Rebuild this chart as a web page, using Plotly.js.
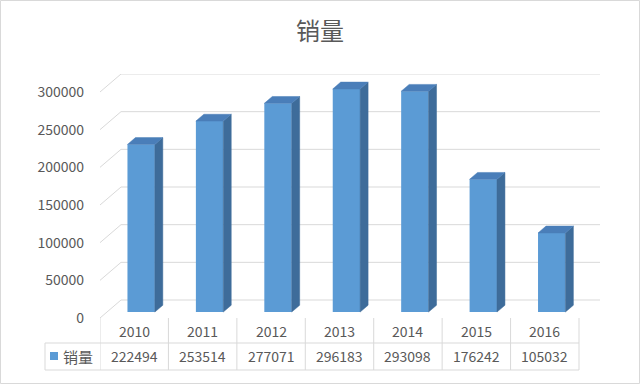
<!DOCTYPE html>
<html>
<head>
<meta charset="utf-8">
<script src="https://cdn.plot.ly/plotly-3.0.1.min.js"></script>
<style>
  html, body { margin: 0; padding: 0; background: #ffffff; }
  #chart { width: 640px; height: 384px; }
</style>
</head>
<body>
<div id="chart"></div>
<script>
// ---- data ----
const years = ['2010', '2011', '2012', '2013', '2014', '2015', '2016'];
const sales = [222494, 253514, 277071, 296183, 293098, 176242, 105032];
const seriesName = '销量';
const yTicks = [0, 50000, 100000, 150000, 200000, 250000, 300000];

// ---- geometry of the pseudo-3D box (pixels) ----
const W = 640, H = 384;
const L = 100, R = 40, T = 74, B = 66;
const plotW = W - L - R, plotH = H - T - B;
const floorPx = H - B;            // front edge of the floor
const frontTopPx = 92;            // where 300000 sits on the front plane
const unitsPerPx = 300000 / (floorPx - frontTopPx);
const depth = { x: 21, y: 18 };   // wall depth offset in pixels
const nCat = years.length;
const pxPerCat = (plotW - depth.x) / nCat;
const DX = depth.x / pxPerCat;    // depth offset in category units
const DY = depth.y * unitsPerPx;  // depth offset in value units

const f1 = 0.33;   // bar front face position along the depth
const f2 = 0.38;   // bar thickness along the depth
const barW = 0.4;

const gridColor = '#d9d9d9';
const textColor = '#595959';
const frontColor = '#5B9BD5';
const sideColor = '#3E6C9A';
const topColor = '#4A7EB9';
const font = 'Noto Sans CJK SC, Noto Sans, sans-serif';

const pxX = px => (px - L) / plotW;
const pxY = py => (floorPx - py) / plotH;

// ---- walls: back-wall gridlines plus the diagonal on the side wall ----
const shapes = yTicks.map(v => ({
  type: 'path', xref: 'x', yref: 'y', layer: 'below',
  path: `M ${-0.5},${v} L ${-0.5 + DX},${v + DY} L ${nCat - 0.5 + DX},${v + DY}`,
  line: { color: gridColor, width: 1 }
}));

// ---- data table under the plot ----
const rowTop = 318, rowMid = 343, rowBot = 370, legendLeft = 45;
for (let k = 0; k <= nCat; k++) {
  shapes.push({
    type: 'line', xref: 'x', yref: 'paper',
    x0: k - 0.5, x1: k - 0.5, y0: pxY(rowTop), y1: pxY(rowBot),
    line: { color: gridColor, width: 1 }
  });
}
[rowMid, rowBot].forEach(py => shapes.push({
  type: 'line', xref: 'paper', yref: 'paper',
  x0: pxX(legendLeft), x1: pxX(L + pxPerCat * nCat), y0: pxY(py), y1: pxY(py),
  line: { color: gridColor, width: 1 }
}));
shapes.push({
  type: 'line', xref: 'paper', yref: 'paper',
  x0: pxX(legendLeft), x1: pxX(legendLeft), y0: pxY(rowMid), y1: pxY(rowBot),
  line: { color: gridColor, width: 1 }
});
// legend key in the table
shapes.push({
  type: 'rect', xref: 'paper', yref: 'paper',
  x0: pxX(50), x1: pxX(58), y0: pxY(360), y1: pxY(352),
  fillcolor: frontColor, line: { width: 0 }
});
// outer frame of the chart area
shapes.push({
  type: 'rect', xref: 'paper', yref: 'paper',
  x0: pxX(0.5), x1: pxX(639.5), y0: pxY(383.5), y1: pxY(0.5),
  line: { color: gridColor, width: 1 }
});

const annotations = [];
years.forEach((yr, i) => {
  annotations.push({
    xref: 'x', yref: 'paper', x: i, y: pxY(331), text: yr, showarrow: false,
    xanchor: 'center', yanchor: 'middle', font: { family: font, size: 14, color: textColor }
  });
  annotations.push({
    xref: 'x', yref: 'paper', x: i, y: pxY(356), text: String(sales[i]), showarrow: false,
    xanchor: 'center', yanchor: 'middle', font: { family: font, size: 14, color: textColor }
  });
});
annotations.push({
  xref: 'paper', yref: 'paper', x: pxX(61), y: pxY(356), text: seriesName, showarrow: false,
  xanchor: 'left', yanchor: 'middle', font: { family: font, size: 15, color: textColor }
});

// ---- bars: front faces as a bar trace, side and top faces as filled polygons ----
const base = f1 * DY;
const front = {
  type: 'bar', x: years.map((_, i) => i + f1 * DX), y: sales, base: base,
  width: barW, marker: { color: frontColor, line: { width: 0 } },
  hoverinfo: 'skip', name: seriesName
};
const sideX = [], sideY = [], topX = [], topY = [];
sales.forEach((v, i) => {
  const xl = i + f1 * DX - barW / 2, xr = xl + barW;
  const top = base + v, ox = f2 * DX, oy = f2 * DY;
  sideX.push(xr, xr + ox, xr + ox, xr, xr, null);
  sideY.push(base, base + oy, top + oy, top, base, null);
  topX.push(xl, xl + ox, xr + ox, xr, xl, null);
  topY.push(top, top + oy, top + oy, top, top, null);
});
const side = {
  type: 'scatter', mode: 'lines', x: sideX, y: sideY, fill: 'toself',
  fillcolor: sideColor, line: { color: sideColor, width: 0.5 }, hoverinfo: 'skip'
};
const topFace = {
  type: 'scatter', mode: 'lines', x: topX, y: topY, fill: 'toself',
  fillcolor: topColor, line: { color: topColor, width: 0.5 }, hoverinfo: 'skip'
};

const layout = {
  width: W, height: H,
  margin: { l: L, r: R, t: T, b: B },
  paper_bgcolor: '#ffffff', plot_bgcolor: '#ffffff',
  showlegend: false, hovermode: false,
  title: {
    text: seriesName, xref: 'container', x: 0.5, xanchor: 'center',
    yref: 'container', y: 1 - 32 / H, yanchor: 'middle',
    font: { family: font, size: 24, color: textColor }
  },
  xaxis: {
    range: [-0.5, nCat - 0.5 + DX], showgrid: false, zeroline: false,
    showline: false, showticklabels: false, ticks: '', fixedrange: true
  },
  yaxis: {
    range: [0, plotH * unitsPerPx], tickvals: yTicks, ticktext: yTicks.map(String),
    showgrid: false, zeroline: false, showline: false, ticks: '',
    ticklabelstandoff: 15,
    tickfont: { family: font, size: 14, color: textColor }, fixedrange: true
  },
  shapes: shapes,
  annotations: annotations
};

Plotly.newPlot('chart', [front, side, topFace], layout, { staticPlot: true, displayModeBar: false });
</script>
</body>
</html>
